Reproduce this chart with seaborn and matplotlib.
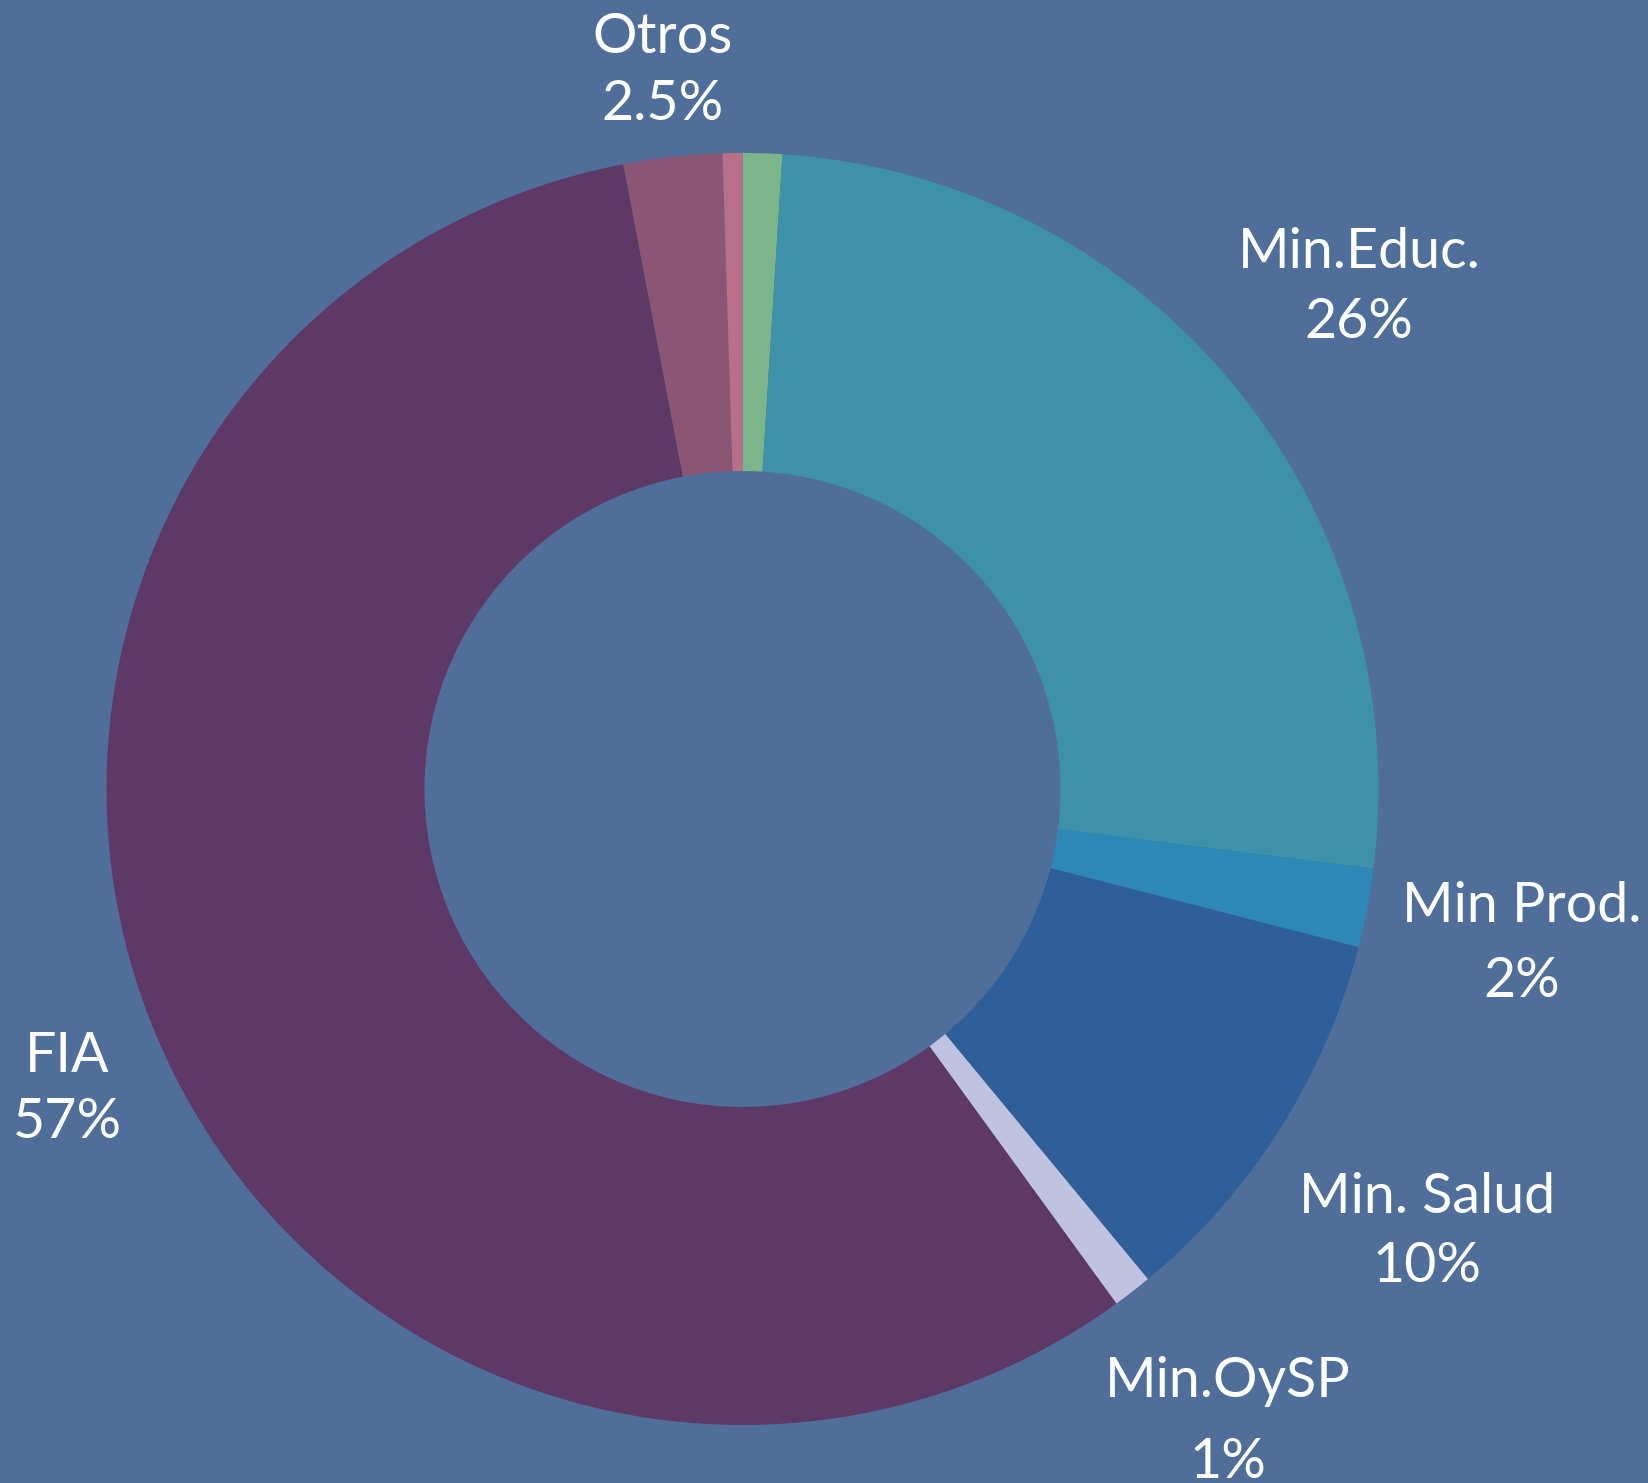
"""
Donut chart: distribución del financiamiento por fuente.
"""

import matplotlib
matplotlib.use("Agg")
import matplotlib.pyplot as plt
import seaborn as sns

# ── Data ───────────────────────────────────────────────
SOURCES = ["Green", "Min.Educ.", "Min Prod.", "Min. Salud", "Min.OySP", "FIA", "Otros", "Pink"]
SHARES  = [1.0, 26.0, 2.0, 10.0, 1.0, 57.0, 2.5, 0.5]
COLORS  = ["#7db58a", "#3d91a8", "#2d88b8", "#2e5f98", "#c0c3e0", "#5e3966", "#8b5674", "#b87088"]

LABELS     = ["Otros", "Min.Educ.", "Min Prod.", "Min. Salud", "Min.OySP", "FIA"]
PCT_LABELS = ["2.5%", "26%", "2%", "10%", "1%", "57%"]

BG = "#4f6f9a"

# label placement in pixels (x center, baseline line1, baseline line2)
LABEL_POS = [(663, 53, 120), (1359, 268, 338), (1522, 922, 997),
             (1427, 1213, 1282), (1228, 1397, 1478), (67, 1072, 1138)]

sns.set_style("white")
plt.rcParams["font.family"] = ["Lato", "DejaVu Sans"]

W, H = 1649, 1483
fig = plt.figure(figsize=(W / 100, H / 100), dpi=100, facecolor=BG)
ax = fig.add_axes([0, 0, 1, 1])
ax.set_facecolor(BG)

ax.pie(SHARES, colors=COLORS, startangle=90, counterclock=False, radius=1,
       wedgeprops=dict(width=0.5, linewidth=0))

# map data units so center sits at (742.5, 789) px and radius = 636 px
cx, cy, r = 742.5, 789.0, 636.0
ax.set_xlim(-cx / r, (W - cx) / r)
ax.set_ylim(-(H - cy) / r, cy / r)
ax.set_aspect("auto")
ax.axis("off")

for name, pct, (x, y1, y2) in zip(LABELS, PCT_LABELS, LABEL_POS):
    fig.text(x / W, 1 - y1 / H, name, ha="center", va="baseline",
             fontsize=40, color="white")
    fig.text(x / W, 1 - y2 / H, pct, ha="center", va="baseline",
             fontsize=40, color="white")

fig.savefig("out.png", dpi=100, facecolor=BG)
